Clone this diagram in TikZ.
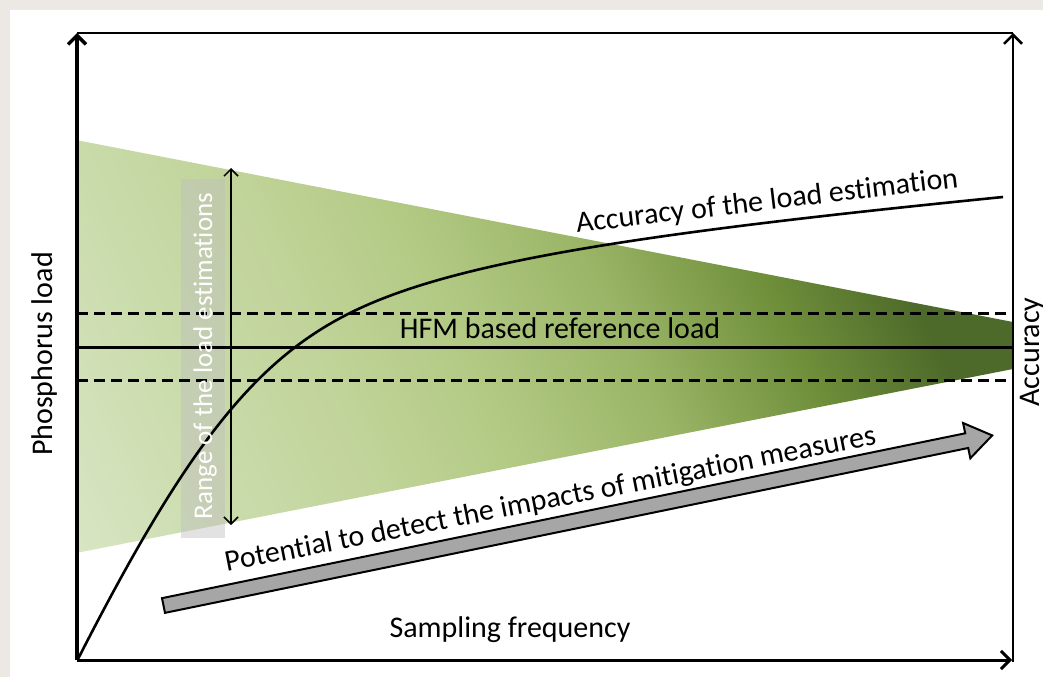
\documentclass[tikz,border=0pt]{standalone}
\usepackage{fontspec}
\setmainfont{Carlito}[RawFeature=-liga]
\usetikzlibrary{arrows.meta,calc}
\definecolor{bgc}{HTML}{ECE8E4}
\definecolor{g0}{HTML}{E8EFDD}
\definecolor{g1}{HTML}{D8E5C3}
\definecolor{g2}{HTML}{C9DBAA}
\definecolor{g3}{HTML}{C0D398}
\definecolor{g4}{HTML}{B3CA85}
\definecolor{g5}{HTML}{9AB566}
\definecolor{g6}{HTML}{6E8E3A}
\definecolor{g7}{HTML}{4E6A2A}
\definecolor{arrowgray}{HTML}{A6A6A6}
\pgfdeclarehorizontalshading{wedgeshade}{100bp}{color(0bp)=(g0); color(17bp)=(g1); color(28bp)=(g2); color(37bp)=(g3); color(45bp)=(g4); color(55bp)=(g5); color(65bp)=(g6); color(73bp)=(g7); color(100bp)=(g7)}
\tikzset{
  barb/.style={-{Straight Barb[length=9pt,width=18pt]}},
  refline/.style={line width=3pt},
  dashline/.style={line width=3pt, dash pattern=on 11pt off 6pt},
  lbl/.style={inner sep=0pt, text=black},
}
\begin{document}
\begin{tikzpicture}[x=1pt,y=-1pt,font=\fontsize{30pt}{36pt}\selectfont]
\useasboundingbox (0,0) rectangle (1043,677);
\fill[bgc] (0,0) rectangle (1043,677);
\fill[white] (10,10) rectangle (1043,677);
% coordinates
\coordinate (O) at (77,660);
\coordinate (Ytop) at (77,33);
\coordinate (Xend) at (1012,660);
\coordinate (Rbot) at (1013,662);
\coordinate (Rtop) at (1013,33);
% green wedge
\shade[shading=wedgeshade, shading angle=25] (76,140) -- (1013,322) -- (1013,369) -- (76,553) -- cycle;
% range box
\fill[black!25, opacity=0.45] (181,179) rectangle (225,538);
% reference lines
\draw[dashline] (77,313) -- (1013,313);
\draw[dashline] (77,380) -- (1013,380);
\draw[refline] (77,347) -- (1013,347);
% accuracy curve
\coordinate (c0) at (78,659);
\coordinate (c1) at (350,313);
\coordinate (c2) at (1003,197);
\draw[line width=2.6pt] (c0) .. controls (185.9,447.6) and (253.9,361.1) .. (c1) .. controls (451.4,262.3) and (634.8,233.8) .. (c2);
% range arrow
\coordinate (ra) at (231,168);
\coordinate (rb) at (231,525);
\draw[line width=1.5pt, {Straight Barb[length=7pt,width=14pt]}-{Straight Barb[length=7pt,width=14pt]}] (ra) -- (rb);
\node[lbl, text=white, font=\fontsize{27pt}{32pt}\selectfont, rotate=90, anchor=base] (rangetxt) at (212,356) {Range of the load estimations};
% gray arrow
\begin{scope}[shift={(163.5,605.5)}, rotate=11.6]
\draw[fill=arrowgray, line width=2pt, line join=miter] (0,-7.5) -- (820,-7.5) -- (820,-18) -- (846,0) -- (820,18) -- (820,7.5) -- (0,7.5) -- cycle;
\end{scope}
% labels
\node[lbl, rotate=11.1, anchor=base] (pot) at (552,508) {Potential to detect the impacts of mitigation measures};
\node[lbl, rotate=6.8, anchor=base] (acc) at (768,210) {Accuracy of the load estimation};
\node[lbl, anchor=base] (hfm) at (560,338) {HFM based reference load};
\node[lbl, anchor=base] (samp) at (510,637) {Sampling frequency};
\node[lbl, rotate=90, anchor=base] (phos) at (52,354) {Phosphorus load};
\node[lbl, rotate=90, anchor=base] (accy) at (1039,352) {Accuracy};
% axes
\draw[line width=1.5pt] (Ytop) -- (Rtop);
\draw[line width=3.5pt, barb] (O) -- (Ytop);
\draw[line width=3pt, barb] (O) -- (Xend);
\draw[line width=2.5pt, barb] (Rbot) -- (Rtop);
\end{tikzpicture}
\end{document}
